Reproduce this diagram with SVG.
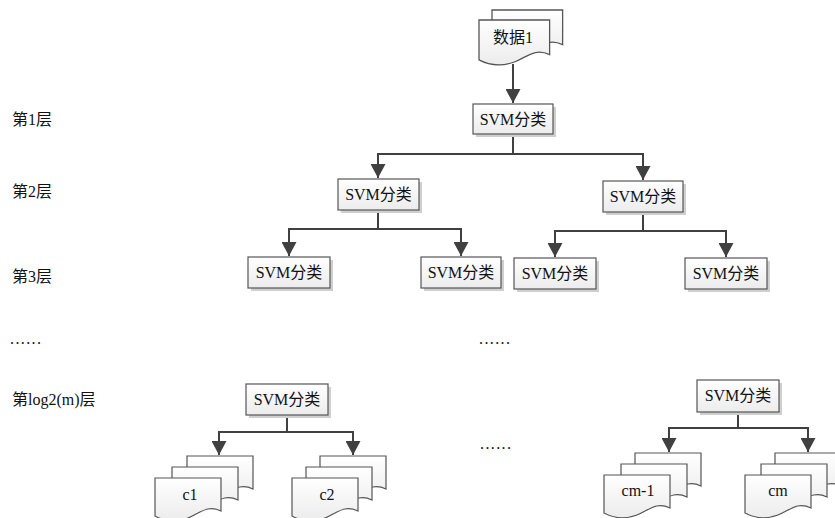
<svg xmlns="http://www.w3.org/2000/svg" width="835" height="518" viewBox="0 0 835 518">
<style>
.box{fill:url(#g);stroke:#555;stroke-width:1.2}
.sh{fill:#cfcfcf}
.t{font-family:"Liberation Serif","Noto Sans CJK SC",serif;font-size:16px;fill:#111;text-anchor:middle}
.lbl{font-family:"Liberation Serif","Noto Sans CJK SC",serif;font-size:16px;fill:#111}
.c{fill:none;stroke:#404040;stroke-width:2;marker-end:url(#ah)}
.pg{fill:url(#g);stroke:#555;stroke-width:1.2}
</style>
<defs>
<linearGradient id="g" x1="0" y1="0" x2="0" y2="1">
<stop offset="0" stop-color="#ffffff"/>
<stop offset="1" stop-color="#ececec"/>
</linearGradient>
<marker id="ah" markerUnits="userSpaceOnUse" markerWidth="15" markerHeight="15" viewBox="0 0 15 15" refX="14" refY="7.5" orient="auto">
<path d="M0,0 L14,7.5 L0,15 Z" fill="#404040"/>
</marker>
<path id="doc" d="M0,0 H66 V33 C52,26 44,36 33,40 C22,44 11,44 0,38 Z"/>
</defs>

<g id="connectors">
<path class="c" d="M513,64 V103"/>
<path class="c" d="M513,134 V154 H378 V178"/>
<path class="c" d="M513,154 H643 V180"/>
<path class="c" d="M378,210 V229 H289 V256"/>
<path class="c" d="M378,229 H461 V256"/>
<path class="c" d="M643,212 V231 H555 V257"/>
<path class="c" d="M643,231 H726 V257"/>
<path class="c" d="M287,415 V432 H219 V455"/>
<path class="c" d="M287,432 H353 V455"/>
<path class="c" d="M738,412 V428 H669 V452"/>
<path class="c" d="M738,428 H808 V452"/>
</g>

<g id="data1">
<path class="pg" transform="translate(492,10) scale(1.07,1.05)" d="M0,0 H66 V33 C52,26 44,36 33,40 C22,44 11,44 0,38 Z"/>
<path class="pg" transform="translate(479,20) scale(1.07,1.05)" d="M0,0 H66 V33 C52,26 44,36 33,40 C22,44 11,44 0,38 Z"/>
<text class="t" x="513" y="43">数据1</text>
</g>

<g id="svm1">
<rect class="sh" x="476" y="107" width="80" height="30"/>
<rect class="box" x="473" y="104" width="80" height="30"/>
<text class="t" x="513" y="125">SVM分类</text>
</g>

<g id="svm2a">
<rect class="sh" x="341" y="182" width="81" height="31"/>
<rect class="box" x="338" y="179" width="81" height="31"/>
<text class="t" x="378.5" y="200">SVM分类</text>
</g>
<g id="svm2b">
<rect class="sh" x="606" y="184" width="80" height="31"/>
<rect class="box" x="603" y="181" width="80" height="31"/>
<text class="t" x="643" y="202">SVM分类</text>
</g>

<g id="svm3a">
<rect class="sh" x="251" y="260" width="82" height="31"/>
<rect class="box" x="248" y="257" width="82" height="31"/>
<text class="t" x="289" y="278">SVM分类</text>
</g>
<g id="svm3b">
<rect class="sh" x="424" y="260" width="80" height="31"/>
<rect class="box" x="421" y="257" width="80" height="31"/>
<text class="t" x="461" y="278">SVM分类</text>
</g>
<g id="svm3c">
<rect class="sh" x="517" y="261" width="82" height="31"/>
<rect class="box" x="514" y="258" width="82" height="31"/>
<text class="t" x="555" y="279">SVM分类</text>
</g>
<g id="svm3d">
<rect class="sh" x="688" y="261" width="82" height="31"/>
<rect class="box" x="685" y="258" width="82" height="31"/>
<text class="t" x="726" y="279">SVM分类</text>
</g>

<g id="svmLa">
<rect class="sh" x="249" y="387" width="82" height="31"/>
<rect class="box" x="246" y="384" width="82" height="31"/>
<text class="t" x="287" y="405">SVM分类</text>
</g>
<g id="svmLb">
<rect class="sh" x="700" y="383" width="82" height="32"/>
<rect class="box" x="697" y="380" width="82" height="32"/>
<text class="t" x="738" y="401">SVM分类</text>
</g>

<g id="c1">
<use href="#doc" class="pg" x="187" y="456"/>
<use href="#doc" class="pg" x="172" y="467"/>
<use href="#doc" class="pg" x="155" y="478"/>
<text class="t" x="190" y="500">c1</text>
</g>
<g id="c2">
<use href="#doc" class="pg" x="320" y="456"/>
<use href="#doc" class="pg" x="306" y="467"/>
<use href="#doc" class="pg" x="292" y="478"/>
<text class="t" x="327" y="500">c2</text>
</g>
<g id="cm1">
<use href="#doc" class="pg" x="635" y="453"/>
<use href="#doc" class="pg" x="621" y="464"/>
<use href="#doc" class="pg" x="604" y="475"/>
<text class="t" x="638" y="496">cm-1</text>
</g>
<g id="cm">
<use href="#doc" class="pg" x="775" y="453"/>
<use href="#doc" class="pg" x="761" y="464"/>
<use href="#doc" class="pg" x="745" y="475"/>
<text class="t" x="778" y="496">cm</text>
</g>

<g id="labels">
<text class="lbl" x="12" y="125">第1层</text>
<text class="lbl" x="12" y="197">第2层</text>
<text class="lbl" x="12" y="282">第3层</text>
<text class="lbl" x="10" y="344" letter-spacing="1.4">......</text>
<text class="lbl" x="12" y="405">第log2(m)层</text>
<text class="lbl" x="479" y="344" letter-spacing="1.4">......</text>
<text class="lbl" x="480" y="449" letter-spacing="1.4">......</text>
</g>
</svg>
